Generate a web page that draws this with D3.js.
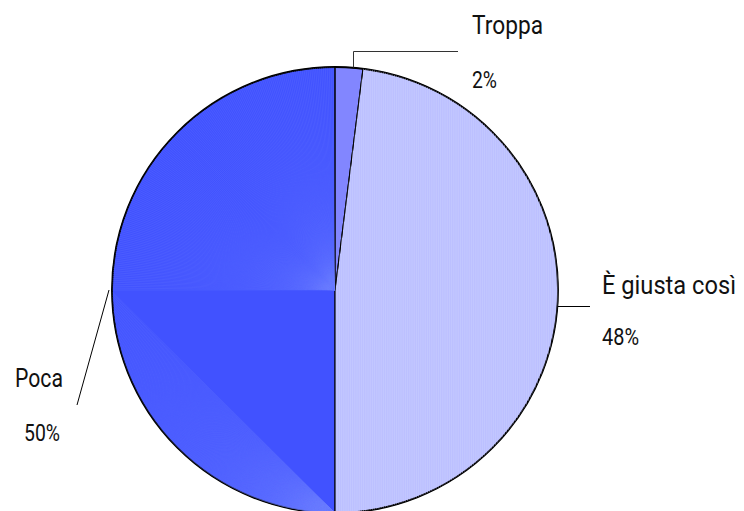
<!DOCTYPE html>
<html>
<head>
<meta charset="utf-8">
<script src="https://cdn.jsdelivr.net/npm/d3@7"></script>
<style>
  html, body { margin: 0; padding: 0; background: #fff; }
  svg { display: block; }
  text { font-family: "Roboto", "Liberation Sans Narrow", "DejaVu Sans Condensed", sans-serif; fill: #111; }
</style>
</head>
<body>
<script>
// Survey answers and their shares (percent)
const categories = ["Troppa", "È giusta così", "Poca"];
const values = [2, 48, 50];
const valueLabels = ["2%", "48%", "50%"];
const colors = ["#8286FF", "#BCC0FF", "#4152FF"];

const W = 744, H = 511;
const cx = 335, cy = 290, R = 223;

const svg = d3.select("body").append("svg")
  .attr("width", W).attr("height", H);

const pie = d3.pie().sort(null).value(d => d)(values);
const arc = d3.arc().innerRadius(0).outerRadius(R);
const edgeArc = d3.arc().innerRadius(R).outerRadius(R);

const g = svg.append("g").attr("transform", `translate(${cx},${cy})`);
const defs = svg.append("defs");

// slice fills
g.selectAll("path.slice").data(pie).join("path")
  .attr("class", "slice")
  .attr("d", arc)
  .attr("fill", (d, i) => colors[i]);

// clip paths per slice for the shading texture
pie.forEach((d, i) => {
  defs.append("clipPath").attr("id", "clip" + i)
    .append("path").attr("d", arc(d)).attr("transform", `translate(${cx},${cy})`);
});

// fan shading on the large slice
const poca = pie[2];
const fan = svg.append("g").attr("clip-path", "url(#clip2)");
const pt = a => [cx + R * Math.sin(a), cy - R * Math.cos(a)];
const qStart = poca.startAngle + (poca.endAngle - poca.startAngle) / 2; // 9 o'clock
// upper part: rays from the centre
for (let a = qStart; a <= poca.endAngle; a += Math.PI / 360) {
  const p = pt(a);
  fan.append("line").attr("x1", cx).attr("y1", cy).attr("x2", p[0]).attr("y2", p[1])
    .attr("stroke", "#7080FF").attr("stroke-width", 0.5).attr("stroke-opacity", 0.45);
}
// lower part: rays from the bottom of the circle into the outer segment
const b = pt(poca.startAngle);
for (let a = poca.startAngle; a <= qStart; a += Math.PI / 400) {
  const p = pt(a);
  fan.append("line").attr("x1", b[0]).attr("y1", b[1]).attr("x2", p[0]).attr("y2", p[1])
    .attr("stroke", "#7080FF").attr("stroke-width", 0.5).attr("stroke-opacity", 0.45);
}

// fine vertical streaks on the light slice
const streak = svg.append("g").attr("clip-path", "url(#clip1)");
d3.range(cx, cx + R + 2, 2.2).forEach(x => {
  streak.append("line").attr("x1", x).attr("x2", x).attr("y1", cy - R).attr("y2", cy + R)
    .attr("stroke", "#CDD0FF").attr("stroke-width", 0.8).attr("stroke-opacity", 0.6);
});

// slice borders
g.selectAll("path.border").data(pie).join("path")
  .attr("class", "border")
  .attr("d", arc)
  .attr("fill", "none")
  .attr("stroke", "#000")
  .attr("stroke-width", 1);
g.append("circle").attr("r", R).attr("fill", "none").attr("stroke", "#000").attr("stroke-width", 1.8);

// leader lines and labels
const labelPos = [
  { name: [472, 34], val: [472, 88], nameLen: 71, valLen: 25 },
  { name: [602, 294], val: [602, 345], nameLen: 134, valLen: 37 },
  { name: [15, 387], val: [24, 441], nameLen: 48, valLen: 36 }
];
const snap = v => Math.round(v) + 0.5;
const leaders = [
  d => { const c = edgeArc.centroid(d); const x = snap(cx + c[0] + 4); return [[x, cy + c[1]], [x, 51.5], [458, 51.5]]; },
  d => { const c = edgeArc.centroid(d); const y = snap(cy + c[1] + 2); return [[cx + c[0], y], [590, y]]; },
  d => { const c = edgeArc.centroid(d); return [[cx + c[0] - 3, cy + c[1]], [77, 405]]; }
];
pie.forEach((d, i) => {
  svg.append("path")
    .attr("d", d3.line()(leaders[i](d)))
    .attr("fill", "none")
    .attr("stroke", i === 0 ? "#333" : "#000")
    .attr("stroke-width", 1);
  const lp = labelPos[i];
  svg.append("text").attr("x", lp.name[0]).attr("y", lp.name[1])
    .attr("font-size", 25).attr("textLength", lp.nameLen).attr("lengthAdjust", "spacingAndGlyphs")
    .text(categories[i]);
  svg.append("text").attr("x", lp.val[0]).attr("y", lp.val[1])
    .attr("font-size", 23).attr("textLength", lp.valLen).attr("lengthAdjust", "spacingAndGlyphs")
    .text(valueLabels[i]);
});
</script>
</body>
</html>
